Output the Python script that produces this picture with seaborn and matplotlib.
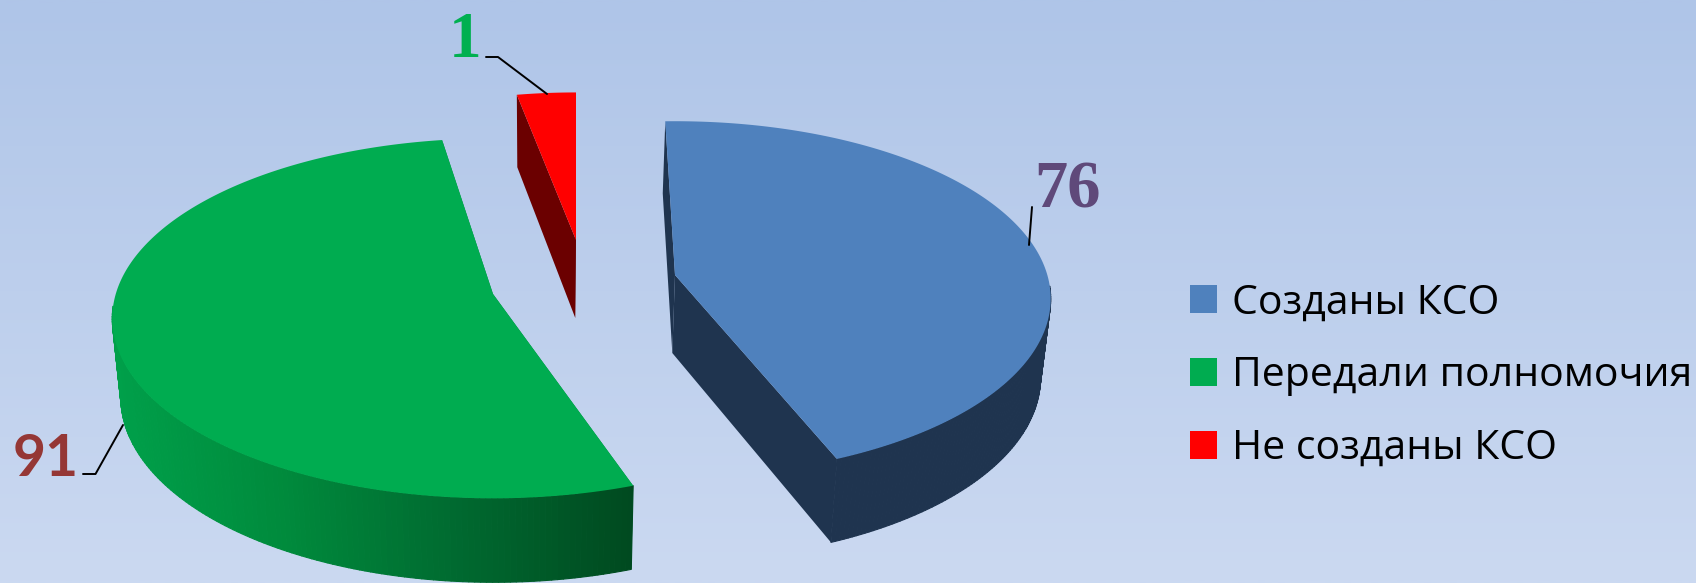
import matplotlib
matplotlib.use('Agg')
import matplotlib.pyplot as plt
from matplotlib.collections import PolyCollection
from matplotlib.patches import Patch
import numpy as np
import seaborn as sns

categories = ['Созданы КСО', 'Передали полномочия', 'Не созданы КСО']
values = [76, 91, 1]
# the slices on the picture are not proportional to the labels, so angles are read off too
slice_start = [91.7, 288.9, 100.8]
slice_degrees = [159.3, 190.1, 10.8]

colors = ['#4F81BD', '#00AC50', '#FF0000']
side_colors = ['#1F344F', '#00873A', '#6B0000']
label_colors = ['#5F497A', '#953735', '#00B050']

# pie look, everything in pixels of the 1696x583 picture
apex = [(675, 275), (493, 294), (576, 240)]
radius = [0.985, 0.998, 0.94]
RX, RY, K = 378, 177, 0.1357
VANISH_X = 540

sns.set_theme(style='white')
plt.rcParams['font.family'] = ['Open Sans', 'DejaVu Sans']


def project(a, x, y, bottom=False):
    s = 1 / (1 + K * y)
    sx = a[0] + RX * x * s
    sy = a[1] - RY * y * s
    if bottom:
        sx = VANISH_X + (sx - VANISH_X) * 0.98
        sy = sy + 78 - 6 * y
    return sx, sy


def arc(i, n=240):
    t = np.radians(np.linspace(slice_start[i], slice_start[i] - slice_degrees[i], n))
    return radius[i] * np.cos(t), radius[i] * np.sin(t)


fig, ax = plt.subplots(figsize=(16.96, 5.83), dpi=100)
fig.subplots_adjust(0, 0, 1, 1)

# background
gradient = np.linspace(0, 1, 300).reshape(-1, 1)
bg = sns.blend_palette(['#AFC5E8', '#CBD9F1'], as_cmap=True)
ax.imshow(gradient, cmap=bg, extent=(0, 1696, 583, 0), aspect='auto', zorder=0)

green_rim = sns.blend_palette(['#00A04A', '#008A3C', '#006A30', '#004A20'], as_cmap=True)

for i in [1, 0, 2]:
    xs, ys = arc(i)
    tx, ty = project(apex[i], xs, ys)
    bx, by = project(apex[i], xs, ys, bottom=True)
    ax0, ay0 = project(apex[i], 0, 0)
    bx0, by0 = project(apex[i], 0, 0, bottom=True)

    # two cut faces
    for j in [0, -1]:
        ax.fill([ax0, tx[j], bx[j], bx0], [ay0, ty[j], by[j], by0],
                color=side_colors[i], lw=0, zorder=2)

    # outer rim in strips, the back part is hidden anyway so skip it
    front = [k for k in range(len(xs) - 1) if ys[k] < -0.06 and ys[k + 1] < -0.06]
    strips = [[(tx[k], ty[k]), (tx[k + 1], ty[k + 1]), (bx[k + 1], by[k + 1]), (bx[k], by[k])]
              for k in front]
    if strips:
        if i == 1:
            shade = green_rim(np.clip((tx[front] - 111) / (632 - 111), 0, 1))
        else:
            shade = side_colors[i]
        ax.add_collection(PolyCollection(strips, facecolors=shade, edgecolors=shade, lw=0.8, zorder=2))

    ax.fill(np.r_[ax0, tx], np.r_[ay0, ty], color=colors[i], lw=0, zorder=3)

# data labels and leader lines
label_pos = [(1067, 184), (46, 454), (465, 34)]
label_font = ['Liberation Serif', 'Lato', 'Liberation Serif']
label_size = [48, 41, 47]
leaders = [([1032, 1029], [207, 245]),
           ([83, 95.5, 123], [474, 474, 425]),
           ([486, 498, 547], [57, 57, 94])]
for i in range(3):
    ax.plot(leaders[i][0], leaders[i][1], color='black', lw=1.4, zorder=4)
    ax.text(label_pos[i][0], label_pos[i][1], str(values[i]), color=label_colors[i],
            family=label_font[i], fontweight='bold', fontsize=label_size[i],
            ha='center', va='center_baseline', zorder=5)

handles = [Patch(color=c, lw=0) for c in colors]
ax.legend(handles, categories, loc='center left', bbox_to_anchor=(1190, 376),
          bbox_transform=ax.transData, frameon=False, fontsize=29.5,
          handlelength=0.66, handleheight=0.66, handletextpad=0.36, labelspacing=0.79,
          borderpad=0, borderaxespad=0, labelcolor='black')

ax.set_xlim(0, 1696)
ax.set_ylim(583, 0)
ax.axis('off')

plt.savefig('out.png', dpi=100)
